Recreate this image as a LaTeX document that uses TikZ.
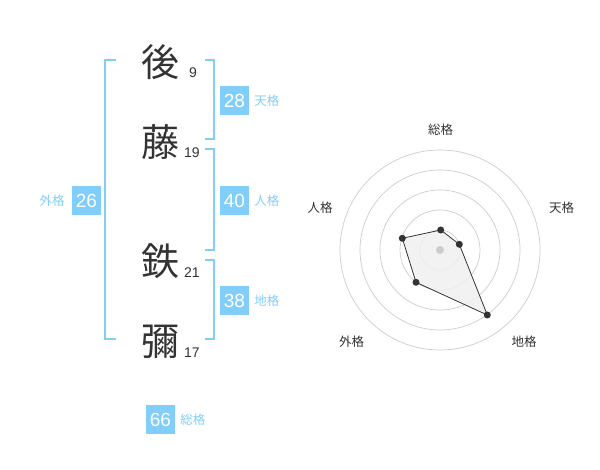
\documentclass[tikz,border=0pt]{standalone}
\usepackage{fontspec}
\setmainfont{Liberation Sans}
\newfontfamily\cjk{Noto Sans CJK JP}
\definecolor{kblue}{RGB}{129,206,250}
\definecolor{ktext}{RGB}{51,51,51}
\definecolor{kgrid}{RGB}{204,204,204}
\definecolor{kfill}{RGB}{240,240,240}
\tikzset{
  bigchar/.style={inner sep=0pt, font=\cjk\fontsize{38}{38}\selectfont, text=ktext},
  strokes/.style={inner sep=0pt, font=\fontsize{14}{14}\selectfont, text=ktext},
  valbox/.style={fill=kblue, text=white, minimum width=29pt, minimum height=29pt, inner sep=0pt, font=\fontsize{19}{19}\selectfont},
  kaku/.style={inner sep=0pt, text=kblue, font=\cjk\fontsize{12.5}{12.5}\selectfont},
  bracket/.style={draw=kblue, line width=2pt},
  grid/.style={draw=kgrid, line width=0.7pt},
  axislabel/.style={inner sep=0pt, text=ktext, font=\cjk\fontsize{12.5}{12.5}\selectfont},
  dot/.style={circle, fill=ktext, inner sep=0pt, minimum size=7pt},
}
\begin{document}
\begin{tikzpicture}[x=1pt,y=-1pt]
\useasboundingbox (0,0) rectangle (600,470);
% characters
\node[bigchar] (c1) at (160,61.7) {後};
\node[bigchar] (c2) at (160,141.7) {藤};
\node[bigchar] (c3) at (160,261) {鉄};
\node[bigchar] (c4) at (160,341.7) {彌};
\node[strokes] (s1) at (193,73) {9};
\node[strokes] (s2) at (192,153) {19};
\node[strokes] (s3) at (192,273) {21};
\node[strokes] (s4) at (192,353) {17};
% brackets
\coordinate (la) at (116,60);
\coordinate (lb) at (116,339.3);
\draw[bracket] (la) -- (105,60) -- (105,339.3) -- (lb);
\coordinate (ta) at (205,60);
\coordinate (tb) at (205,139.3);
\draw[bracket] (ta) -- (214.3,60) -- (214.3,139.3) -- (tb);
\coordinate (ja) at (205,149.3);
\coordinate (jb) at (205,250);
\draw[bracket] (ja) -- (214.3,149.3) -- (214.3,250) -- (jb);
\coordinate (ca) at (205,260);
\coordinate (cb) at (205,339.3);
\draw[bracket] (ca) -- (214.3,260) -- (214.3,339.3) -- (cb);
% value boxes
\node[valbox] (ten) at (234.5,100.5) {28};
\node[kaku, anchor=west] (tenl) at ([xshift=5pt]ten.east) {天格};
\node[valbox] (jin) at (234.5,200.5) {40};
\node[kaku, anchor=west] (jinl) at ([xshift=5pt]jin.east) {人格};
\node[valbox] (chi) at (234.5,300.5) {38};
\node[kaku, anchor=west] (chil) at ([xshift=5pt]chi.east) {地格};
\node[valbox] (gai) at (86.5,200.5) {26};
\node[kaku, anchor=east] (gail) at ([xshift=-7pt]gai.west) {外格};
\node[valbox] (sou) at (160.5,419.5) {66};
\node[kaku, anchor=west] (soul) at ([xshift=5pt]sou.east) {総格};
% radar chart
\coordinate (o) at (440,250);
\foreach \r in {20,40,60,80,100} \draw[grid] (o) circle[radius=\r];
\coordinate (p1) at (440.7,230);
\coordinate (p2) at (459.3,244.3);
\coordinate (p3) at (487.3,315);
\coordinate (p4) at (416,282.3);
\coordinate (p5) at (402.3,238.3);
\draw[fill=kfill, fill opacity=0.85, draw=ktext, line width=0.8pt] (p1) -- (p2) -- (p3) -- (p4) -- (p5) -- cycle;
\fill[kgrid] (o) circle[radius=4];
\foreach \p in {p1,p2,p3,p4,p5} \node[dot] at (\p) {};
\node[axislabel] (a1) at (440.7,130) {総格};
\node[axislabel] (a2) at (561.7,208) {天格};
\node[axislabel] (a3) at (524,342) {地格};
\node[axislabel] (a4) at (351.7,342) {外格};
\node[axislabel] (a5) at (320,208) {人格};
\end{tikzpicture}
\end{document}
